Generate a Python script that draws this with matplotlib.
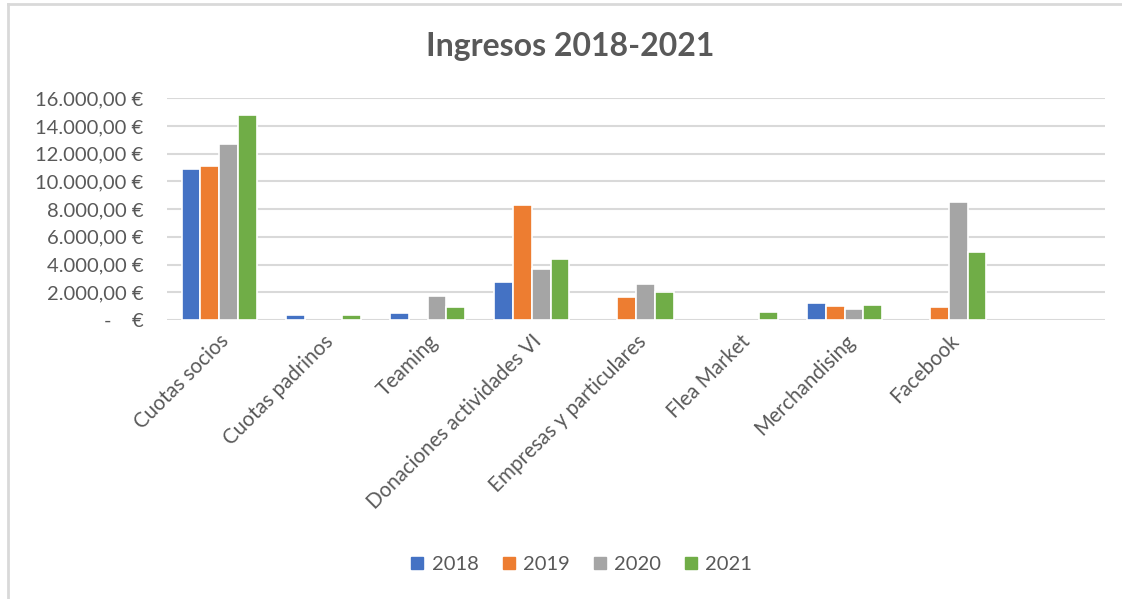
import numpy as np
import matplotlib
matplotlib.use("Agg")
import matplotlib.pyplot as plt
from matplotlib.ticker import FuncFormatter
from matplotlib.lines import Line2D

plt.rcParams['font.family'] = ['Lato', 'DejaVu Sans']

# data (last slot is an empty category)
categories = ["Cuotas socios", "Cuotas padrinos", "Teaming", "Donaciones actividades VI",
              "Empresas y particulares", "Flea Market", "Merchandising", "Facebook", ""]
years = ["2018", "2019", "2020", "2021"]
v2018 = [10880, 340, 500, 2720, 0, 0, 1200, 0, 0]
v2019 = [11100, 0, 0, 8280, 1640, 0, 1010, 920, 0]
v2020 = [12720, 0, 1740, 3680, 2620, 0, 770, 8540, 0]
v2021 = [14770, 330, 920, 4380, 2000, 580, 1100, 4900, 0]
colors = ["#4472C4", "#ED7D31", "#A5A5A5", "#70AD47"]

fig = plt.figure(figsize=(11.22, 5.99), dpi=100)
ax = fig.add_axes([0.1488, 0.4658, 0.8362, 0.3702])

x = np.arange(len(categories))
w = 0.18
for i, (vals, col, yr) in enumerate(zip([v2018, v2019, v2020, v2021], colors, years)):
    vals = np.array(vals)
    keep = vals > 0  # empty cells draw nothing
    ax.bar(x[keep] + (i - 1.5) * w, vals[keep], w, color=col, edgecolor="white",
           linewidth=1.2, label=yr, zorder=3)

ax.set_xlim(-0.5, len(categories) - 0.5)
ax.set_ylim(0, 16000)
ax.set_yticks(np.arange(0, 16001, 2000))


def euro(v, pos):
    if v == 0:
        return "-    €"
    s = f"{v:,.2f}".replace(",", "X").replace(".", ",").replace("X", ".")
    return s + " €"


ax.yaxis.set_major_formatter(FuncFormatter(euro))
ax.grid(axis="y", color="#D9D9D9", linewidth=1.5, zorder=0)
for s in ["top", "right", "left", "bottom"]:
    ax.spines[s].set_visible(False)
ax.tick_params(axis="both", length=0, colors="#595959")
ax.tick_params(axis="y", pad=17, labelsize=14.5)
ax.tick_params(axis="x", pad=8, labelsize=14.8)
ax.set_xticks(x)
ax.set_xticklabels(categories, rotation=45, ha="right", rotation_mode="anchor")

fig.text(0.5085, 0.922, "Ingresos 2018-2021", ha="center", va="center",
         fontsize=23, fontweight="bold", color="#595959")

handles = [Line2D([], [], marker="s", linestyle="", color=c, markersize=8) for c in colors]
fig.legend(handles, years, loc="center", bbox_to_anchor=(0.518, 0.057), ncol=4,
           frameon=False, fontsize=14.5, labelcolor="#595959", handlelength=0.7,
           handletextpad=0.35, columnspacing=1.15)

# chart area border (left and top edges visible in the reference)
fig.add_artist(Line2D([0.0075, 0.0075], [0, 0.993], color="#D9D9D9", linewidth=2,
                      transform=fig.transFigure))
fig.add_artist(Line2D([0.0075, 1.0], [0.993, 0.993], color="#D9D9D9", linewidth=2,
                      transform=fig.transFigure))

fig.savefig("out.png", dpi=100)
